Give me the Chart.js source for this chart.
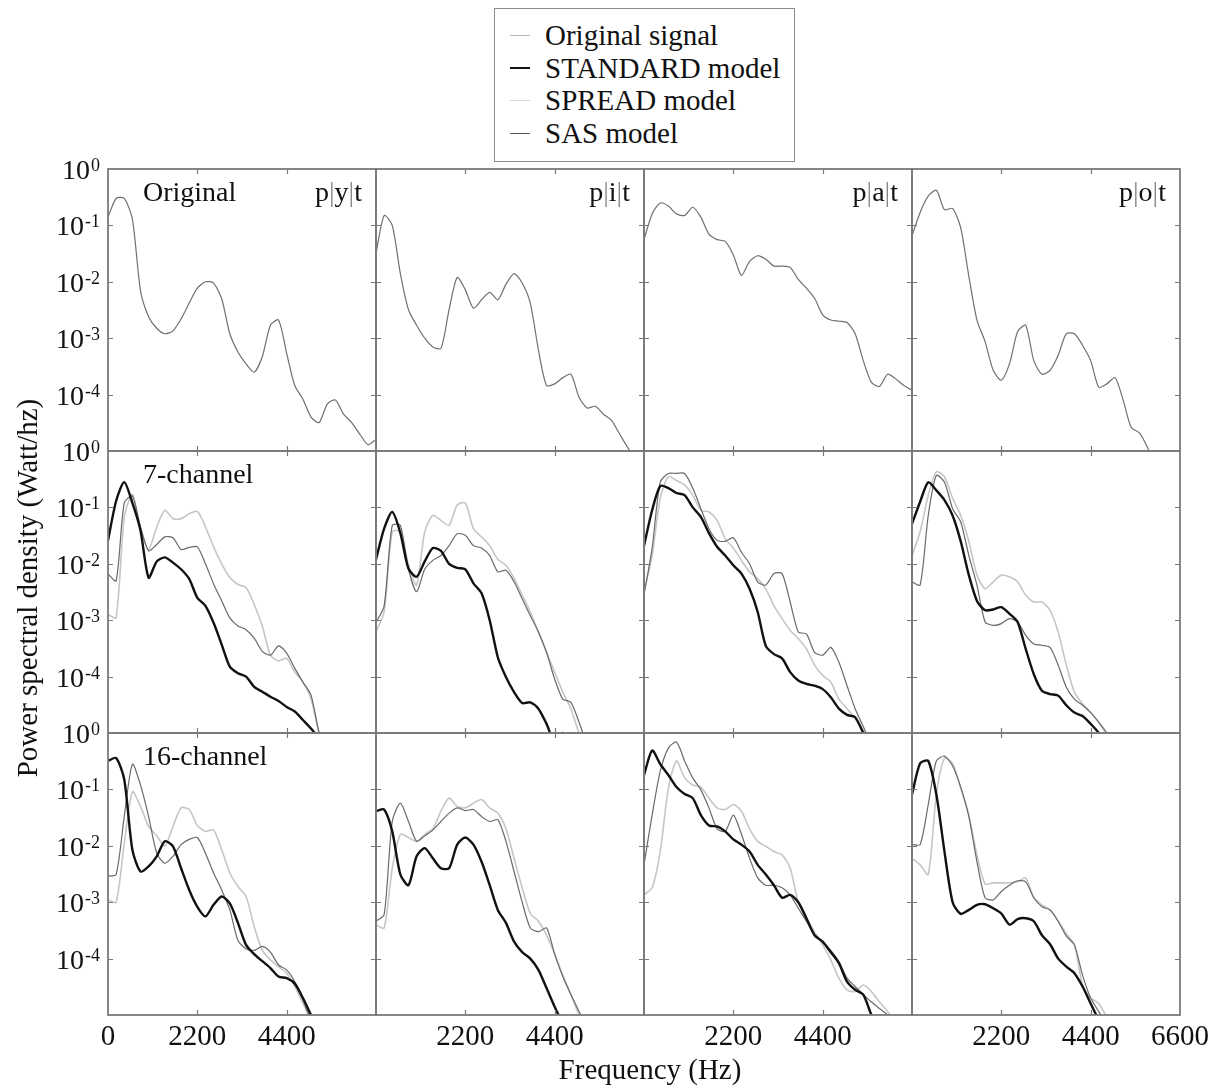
<!DOCTYPE html>
<html lang="en">
<head>
<meta charset="utf-8">
<title>Power spectral density</title>
<script src="https://cdn.jsdelivr.net/npm/chart.js@4.4.1/dist/chart.umd.min.js"></script>
<style>
  html, body { margin: 0; padding: 0; background: #fff; }
  #page { position: relative; width: 1217px; height: 1089px; overflow: hidden;
          font-family: 'Liberation Serif', 'Times New Roman', serif; color: #111; }
  #psd { position: absolute; left: 0; top: 0; }
  .legend { position: absolute; left: 494px; top: 8px; width: 301px; height: 154px; box-sizing: border-box;
            border: 1px solid #8c8c8c; padding: 10px 0 0 15px; background: #fff; }
  .legend div { display: flex; align-items: center; height: 32.7px; line-height: 32.7px; font-size: 29px; white-space: nowrap; }
  .legend .mark { display: inline-block; width: 20px; margin-right: 15px; }
  .m-orig { border-top: 1.5px solid #b4b4b4; }
  .m-std { border-top: 2.5px solid #111; }
  .m-spread { border-top: 1.5px solid #d6d6d6; }
  .m-sas { border-top: 1.5px solid #555; }
  .xtitle { position: absolute; left: 450px; width: 400px; top: 1053px; text-align: center; font-size: 29px; line-height: 32px; }
  .ytitle { position: absolute; left: -223px; top: 572px; width: 500px; height: 32px; line-height: 32px;
            text-align: center; font-size: 29px; transform: rotate(-90deg); }
</style>
</head>
<body>
<div id="page">
  <canvas id="psd" width="1217" height="1089"></canvas>
  <div class="legend">
    <div><span class="mark m-orig"></span>Original signal</div>
    <div><span class="mark m-std"></span>STANDARD model</div>
    <div><span class="mark m-spread"></span>SPREAD model</div>
    <div><span class="mark m-sas"></span>SAS model</div>
  </div>
  <div class="ytitle">Power spectral density (Watt/hz)</div>
  <div class="xtitle">Frequency (Hz)</div>
</div>
<script>
// frequency grid (Hz), shared by every curve
const freqs = [0, 200, 400, 600, 800, 1000, 1200, 1400, 1600, 1800, 2000, 2200, 2400, 2600, 2800, 3000,
  3200, 3400, 3600, 3800, 4000, 4200, 4400, 4600, 4800, 5000, 5200, 5400, 5600, 5800, 6000, 6200, 6400, 6600];

const words = ['p|y|t', 'p|i|t', 'p|a|t', 'p|o|t'];
const rowNames = ['Original', '7-channel', '16-channel'];
const decades = [1, 1e-1, 1e-2, 1e-3, 1e-4];
const freqTicks = [2200, 4400];

// row 1: original signal
const origPyt = [1.4e-1, 3e-1, 3e-1, 1.3e-1, 7e-3, 2.4e-3, 1.5e-3, 1.2e-3, 1.35e-3, 2.2e-3, 4.2e-3, 7.7e-3, 1e-2, 9.5e-3, 5e-3, 1.2e-3, 5.7e-4,
  3.5e-4, 2.5e-4, 4.7e-4, 1.7e-3, 2.1e-3, 5.4e-4, 1.45e-4, 8.3e-5, 4e-5, 3.2e-5, 6.8e-5, 8e-5, 4.5e-5, 3.2e-5, 2e-5, 1.3e-5, 1.6e-5];
const origPit = [3.2e-2, 1.5e-1, 1e-1, 1.4e-2, 3.2e-3, 1.7e-3, 1e-3, 7e-4, 6.6e-4, 3.2e-3, 1.2e-2, 7.2e-3, 3.4e-3, 4.8e-3, 6.5e-3, 4.8e-3, 9e-3,
  1.4e-2, 9.5e-3, 4.2e-3, 6.2e-4, 1.45e-4, 1.55e-4, 2e-4, 2.3e-4, 9e-5, 5.8e-5, 6.2e-5, 4.5e-5, 3.5e-5, 2e-5, 1.15e-5, 7e-6];
const origPat = [5.6e-2, 1.6e-1, 2.5e-1, 2.2e-1, 1.6e-1, 1.5e-1, 2.1e-1, 1.4e-1, 7e-2, 5.6e-2, 5.2e-2, 3e-2, 1.3e-2, 2.3e-2, 2.9e-2, 2.5e-2, 1.9e-2,
  1.9e-2, 1.8e-2, 1.1e-2, 7.7e-3, 5.1e-3, 2.6e-3, 2.1e-3, 2e-3, 1.9e-3, 1.2e-3, 4e-4, 1.65e-4, 1.4e-4, 2.3e-4, 1.9e-4, 1.45e-4, 1.2e-4];
const origPot = [6.5e-2, 1.7e-1, 3.3e-1, 4.2e-1, 1.9e-1, 2e-1, 9e-2, 1.25e-2, 2.1e-3, 8.7e-4, 2.7e-4, 1.8e-4, 3.5e-4, 1.3e-3, 1.7e-3, 4e-4, 2.3e-4,
  2.7e-4, 5e-4, 1.2e-3, 1.2e-3, 7.5e-4, 4e-4, 1.35e-4, 1.55e-4, 2e-4, 8e-5, 2.6e-5, 2.1e-5, 1.15e-5, 5e-6];

// row 2: 7-channel
const std7Pyt = [2.6e-2, 1.3e-1, 2.8e-1, 1.2e-1, 3.9e-2, 5.7e-3, 1.1e-2, 1.3e-2, 1.05e-2, 8e-3, 5.4e-3, 2.5e-3, 1.8e-3, 9e-4, 3.7e-4, 1.5e-4,
  1.15e-4, 1e-4, 6.6e-5, 5.4e-5, 4.4e-5, 3.7e-5, 2.9e-5, 2.4e-5, 1.7e-5, 1.2e-5, 8e-6];
const sas7Pyt = [6.6e-3, 5e-3, 1.2e-1, 1.6e-1, 4.5e-2, 1.7e-2, 2.2e-2, 3e-2, 2.9e-2, 1.8e-2, 1.95e-2, 2e-2, 1e-2, 4.4e-3, 2.2e-3, 1.1e-3,
  7.9e-4, 6.8e-4, 4.8e-4, 2.8e-4, 2.4e-4, 3.5e-4, 2.6e-4, 1.4e-4, 8e-5, 4.7e-5, 1e-5, 4e-6];
const spread7Pyt = [1.26e-3, 1.1e-3, 6.7e-2, 1.7e-1, 4.2e-2, 1.8e-2, 4.5e-2, 8.9e-2, 6.3e-2, 6.3e-2, 7.7e-2, 8.5e-2, 4.5e-2, 2e-2, 1e-2, 5.7e-3,
  4.3e-3, 3.8e-3, 1.9e-3, 7.9e-4, 2.4e-4, 1.9e-4, 2.1e-4, 1.2e-4, 8e-5, 4e-5, 1e-5, 4e-6];
const std7Pit = [1.2e-2, 4.2e-2, 8.3e-2, 3.5e-2, 8.2e-3, 5.9e-3, 1.1e-2, 1.9e-2, 1.7e-2, 1e-2, 8.5e-3, 8e-3, 4.5e-3, 3e-3, 1e-3, 2.2e-4,
  9.8e-5, 5.3e-5, 3.4e-5, 3.5e-5, 2.7e-5, 1.45e-5, 7e-6, 1e-5, 4e-6];
const sas7Pit = [9e-4, 1.8e-3, 4.8e-2, 4.8e-2, 8e-3, 3.2e-3, 8e-3, 1.15e-2, 1.4e-2, 2.1e-2, 3.4e-2, 3.2e-2, 2.1e-2, 1.9e-2, 1.4e-2, 7.2e-3,
  7.7e-3, 4.8e-3, 2.4e-3, 1.2e-3, 6.2e-4, 2.7e-4, 9e-5, 4e-5, 3.5e-5, 1.55e-5, 6e-6];
const spread7Pit = [6.2e-4, 1.4e-3, 3.7e-2, 3.7e-2, 9.4e-3, 4.2e-3, 3.7e-2, 7.2e-2, 5.9e-2, 4.8e-2, 1.1e-1, 1.2e-1, 4.2e-2, 3e-2, 2.1e-2, 1.2e-2,
  9.4e-3, 5.5e-3, 2.8e-3, 1.4e-3, 6.2e-4, 2.7e-4, 1.2e-4, 5.3e-5, 2.7e-5, 1e-5, 5e-6];
const std7Pat = [2.1e-2, 8.9e-2, 2.4e-1, 2.2e-1, 1.8e-1, 1.65e-1, 1e-1, 6.8e-2, 3.5e-2, 2e-2, 1.4e-2, 9.4e-3, 6.7e-3, 3.6e-3, 1.4e-3, 3.5e-4,
  2.5e-4, 2.1e-4, 1.2e-4, 8.5e-5, 7.4e-5, 6.9e-5, 6e-5, 4.3e-5, 2.7e-5, 2.1e-5, 1.9e-5, 1e-5, 5e-6];
const sas7Pat = [2.8e-3, 1.9e-2, 2.8e-1, 4e-1, 4e-1, 4e-1, 2.2e-1, 9.5e-2, 4.2e-2, 2.6e-2, 2.5e-2, 2.9e-2, 1.6e-2, 1e-2, 4.8e-3, 4.2e-3,
  6.7e-3, 6.7e-3, 2.1e-3, 6.2e-4, 5.7e-4, 2.7e-4, 2.4e-4, 3.3e-4, 1.8e-4, 6.9e-5, 2.7e-5, 1.3e-5, 6e-6];
const spread7Pat = [3.2e-3, 1.4e-2, 1.45e-1, 3.5e-1, 3e-1, 2.5e-1, 1.65e-1, 8.9e-2, 8.3e-2, 5.9e-2, 2.8e-2, 1.9e-2, 1.15e-2, 7.2e-3, 5.5e-3, 3.6e-3,
  1.8e-3, 1.07e-3, 6.6e-4, 4.7e-4, 3.1e-4, 1.6e-4, 1.05e-4, 8e-5, 4e-5, 2.7e-5, 1.8e-5, 1.1e-5, 5e-6];
const std7Pot = [5.1e-2, 1.26e-1, 2.8e-1, 2e-1, 1.35e-1, 7.2e-2, 2.5e-2, 6.3e-3, 2.2e-3, 1.5e-3, 1.55e-3, 1.7e-3, 1.3e-3, 9.3e-4, 3.1e-4, 1.1e-4,
  5.6e-5, 4.9e-5, 4.6e-5, 3.1e-5, 2.3e-5, 2e-5, 1.45e-5, 1e-5, 5e-6];
const sas7Pot = [4.8e-3, 4.2e-3, 7.2e-2, 3.7e-1, 2.8e-1, 9.5e-2, 5.5e-2, 1.4e-2, 4.2e-3, 9.3e-4, 8.1e-4, 8.7e-4, 1.07e-3, 9.3e-4, 5.4e-4, 3.8e-4,
  3.6e-4, 3.3e-4, 1.6e-4, 6.5e-5, 4e-5, 3.1e-5, 2.3e-5, 1.55e-5, 1e-5, 5e-6];
const spread7Pot = [1.4e-2, 3.7e-2, 1.65e-1, 4.3e-1, 3.5e-1, 1.45e-1, 7.2e-2, 2.5e-2, 6.3e-3, 3.6e-3, 4.8e-3, 6.3e-3, 5.9e-3, 4.8e-3, 2.8e-3, 2.1e-3,
  2.1e-3, 1.5e-3, 6.2e-4, 1.6e-4, 5.3e-5, 3.3e-5, 2.3e-5, 1.55e-5, 9e-6, 5e-6];

// row 3: 16-channel
const std16Pyt = [3.2e-1, 3.6e-1, 1.5e-1, 8.5e-3, 3.5e-3, 4.3e-3, 6.5e-3, 1.2e-2, 9.8e-3, 4e-3, 1.65e-3, 8.3e-4, 5.6e-4, 9e-4, 1.26e-3, 9.5e-4,
  4.3e-4, 1.75e-4, 1.2e-4, 9e-5, 6.8e-5, 4.8e-5, 4.5e-5, 3.6e-5, 2e-5, 1e-5, 5e-6];
const sas16Pyt = [2.9e-3, 3.1e-3, 3.3e-2, 2.8e-1, 1.2e-1, 3.3e-2, 7.4e-3, 4.9e-3, 6.5e-3, 1.05e-2, 1.3e-2, 1.4e-2, 7.4e-3, 3.3e-3, 1.65e-3, 7.3e-4,
  2.1e-4, 1.5e-4, 1.4e-4, 1.65e-4, 1.3e-4, 7.7e-5, 6.3e-5, 3.9e-5, 1.85e-5, 8e-6];
const spread16Pyt = [1.1e-3, 1e-3, 1.1e-2, 9.1e-2, 5e-2, 2.2e-2, 1.5e-2, 9.8e-3, 2.2e-2, 4.7e-2, 4.4e-2, 2.3e-2, 1.8e-2, 1.9e-2, 8.5e-3, 3.3e-3,
  1.9e-3, 1.26e-3, 3.7e-4, 1.4e-4, 9.5e-5, 7.2e-5, 5.5e-5, 3.2e-5, 1.6e-5, 8e-6];
const std16Pit = [4.1e-2, 4.4e-2, 1.8e-2, 3.1e-3, 2e-3, 6.5e-3, 9.1e-3, 6e-3, 4e-3, 4e-3, 1.05e-2, 1.4e-2, 1.05e-2, 5.2e-3, 2e-3, 7.3e-4,
  4.3e-4, 2e-4, 1.3e-4, 1e-4, 6.3e-5, 3e-5, 1.4e-5, 7e-6];
const sas16Pit = [4.6e-4, 6e-4, 2.7e-2, 5.7e-2, 2.7e-2, 1.2e-2, 1.5e-2, 1.9e-2, 2.7e-2, 3.8e-2, 4.7e-2, 4.2e-2, 4.4e-2, 3.3e-2, 2.7e-2, 2.9e-2,
  1.2e-2, 3.5e-3, 1e-3, 3.5e-4, 3e-4, 3.5e-4, 1.2e-4, 4.8e-5, 2.3e-5, 1.15e-5, 6e-6];
const spread16Pit = [4e-4, 3.5e-4, 4e-3, 1.6e-2, 1.4e-2, 1.2e-2, 1.6e-2, 2e-2, 4.1e-2, 7e-2, 5e-2, 4.7e-2, 5.7e-2, 6.6e-2, 4.7e-2, 3.8e-2,
  2e-2, 6e-3, 1.8e-3, 6.3e-4, 4.6e-4, 2.6e-4, 1.2e-4, 5.1e-5, 2.3e-5, 1e-5, 5e-6];
const std16Pat = [1.8e-1, 4.9e-1, 2.8e-1, 1.8e-1, 1.1e-1, 8.3e-2, 7e-2, 3.5e-2, 2.3e-2, 2.2e-2, 1.8e-2, 1.3e-2, 1.05e-2, 7.9e-3, 4.6e-3, 3.1e-3,
  2e-3, 1.2e-3, 1.35e-3, 1e-3, 5.2e-4, 2.6e-4, 2e-4, 1.3e-4, 8.3e-5, 3.9e-5, 2.8e-5, 2.3e-5, 1e-5, 5e-6];
const sas16Pat = [4.6e-3, 3.5e-2, 2.1e-1, 5.4e-1, 6.9e-1, 3.2e-1, 1.6e-1, 9.8e-2, 4.7e-2, 2e-2, 1.8e-2, 3.5e-2, 1.6e-2, 6e-3, 2.7e-3, 2e-3,
  2e-3, 1.8e-3, 1.35e-3, 7.8e-4, 4.6e-4, 2.6e-4, 2e-4, 1.4e-4, 8.9e-5, 4.5e-5, 3.2e-5, 2.3e-5, 1.7e-5, 1.3e-5, 1e-5, 6e-6];
const spread16Pat = [1.35e-3, 1.8e-3, 7.9e-3, 1.05e-1, 3.2e-1, 1.6e-1, 1.2e-1, 1.1e-1, 7e-2, 4.7e-2, 4.4e-2, 5.4e-2, 4.1e-2, 2e-2, 1.2e-2, 9.8e-3,
  7.9e-3, 6.9e-3, 4e-3, 1e-3, 5.2e-4, 3e-4, 1.75e-4, 9.5e-5, 4.5e-5, 2.8e-5, 2.6e-5, 3.4e-5, 2.6e-5, 1.7e-5, 1.15e-5, 6e-6];
const std16Pot = [8.1e-2, 2.9e-1, 3.2e-1, 8.1e-2, 7.9e-3, 1e-3, 6.2e-4, 7.3e-4, 9e-4, 9.2e-4, 7.8e-4, 6.3e-4, 4e-4, 5e-4, 5.2e-4, 4.6e-4,
  2.6e-4, 1.8e-4, 1e-4, 7.2e-5, 5.5e-5, 3.2e-5, 1.6e-5, 8e-6];
const sas16Pot = [1.05e-2, 1.05e-2, 5.4e-2, 3.2e-1, 3.9e-1, 2.6e-1, 1.1e-1, 3.3e-2, 5.2e-3, 1.2e-3, 1.1e-3, 1.55e-3, 2e-3, 2.4e-3, 2.3e-3, 1.2e-3,
  8.3e-4, 7.3e-4, 4.6e-4, 2.5e-4, 1.75e-4, 5.1e-5, 2e-5, 1.15e-5, 7e-6];
const spread16Pot = [6e-3, 4.6e-3, 3.1e-3, 8.1e-2, 3.6e-1, 2.9e-1, 1.05e-1, 3.5e-2, 6.9e-3, 2.1e-3, 2.2e-3, 2.2e-3, 2.2e-3, 2.3e-3, 2.7e-3, 1.2e-3,
  9e-4, 7.3e-4, 4.6e-4, 2.8e-4, 1.75e-4, 3.4e-5, 2e-5, 1.6e-5, 9e-6];

const original = [origPyt, origPit, origPat, origPot];
const standard = [[std7Pyt, std7Pit, std7Pat, std7Pot], [std16Pyt, std16Pit, std16Pat, std16Pot]];
const sas = [[sas7Pyt, sas7Pit, sas7Pat, sas7Pot], [sas16Pyt, sas16Pit, sas16Pat, sas16Pot]];
const spread = [[spread7Pyt, spread7Pit, spread7Pat, spread7Pot], [spread16Pyt, spread16Pit, spread16Pat, spread16Pot]];

const FONT = "'Liberation Serif', 'Times New Roman', serif";
const FRAME = '#7a7a7a';
const INK = '#111111';

const looks = {
  original: { borderColor: '#707070', borderWidth: 1.2, order: 0 },
  standard: { borderColor: '#111111', borderWidth: 2.4, order: 0 },
  sas: { borderColor: '#6a6a6a', borderWidth: 1.2, order: 1 },
  spread: { borderColor: '#c6c6c6', borderWidth: 1.6, order: 2 },
};

function series(label, vals, col, row) {
  return {
    label,
    data: vals.map((v, i) => ({ x: freqs[i], y: v })),
    xAxisID: 'x' + col,
    yAxisID: 'y' + row,
    pointRadius: 0,
    tension: 0.25,
    fill: false,
    ...looks[label],
  };
}

const datasets = [];
for (let c = 0; c < 4; c++) {
  datasets.push(series('original', original[c], c, 0));
  for (let r = 0; r < 2; r++) {
    datasets.push(series('standard', standard[r][c], c, r + 1));
    datasets.push(series('sas', sas[r][c], c, r + 1));
    datasets.push(series('spread', spread[r][c], c, r + 1));
  }
}

// stacked y axes are laid out bottom-up, so the top row (y0) is declared last
const scales = {};
for (let c = 0; c < 4; c++) {
  scales['x' + c] = { type: 'linear', position: 'bottom', stack: 'cols', min: 0, max: 6600, display: false };
}
for (let r = 2; r >= 0; r--) {
  scales['y' + r] = { type: 'logarithmic', position: 'left', stack: 'rows', min: 1e-5, max: 1, display: false };
}

// "p|y|t" with the bars in grey, right-aligned at x
function drawWord(ctx, word, x, y) {
  const parts = word.split('');
  let cx = x - ctx.measureText(word).width;
  ctx.textAlign = 'left';
  parts.forEach((ch) => {
    ctx.fillStyle = ch === '|' ? '#8a8a8a' : INK;
    ctx.fillText(ch, cx, y);
    cx += ctx.measureText(ch).width;
  });
}

// clip each curve to its own panel, then draw frames, ticks and labels
const panels = {
  id: 'panels',
  beforeDatasetDraw(chart, args) {
    const { xScale, yScale } = args.meta;
    const ctx = chart.ctx;
    ctx.save();
    ctx.beginPath();
    ctx.rect(xScale.left, yScale.top, xScale.right - xScale.left, yScale.bottom - yScale.top);
    ctx.clip();
  },
  afterDatasetDraw(chart) {
    chart.ctx.restore();
  },
  afterDatasetsDraw(chart) {
    const ctx = chart.ctx;
    ctx.save();
    ctx.strokeStyle = FRAME;
    for (let r = 0; r < 3; r++) {
      const ys = chart.scales['y' + r];
      for (let c = 0; c < 4; c++) {
        const xs = chart.scales['x' + c];
        ctx.lineWidth = 1.2;
        ctx.beginPath();
        freqTicks.forEach((f) => {
          const px = Math.round(xs.getPixelForValue(f)) + 0.5;
          ctx.moveTo(px, ys.top); ctx.lineTo(px, ys.top + 5);
          ctx.moveTo(px, ys.bottom); ctx.lineTo(px, ys.bottom - 5);
        });
        decades.slice(1).forEach((d) => {
          const py = Math.round(ys.getPixelForValue(d)) + 0.5;
          ctx.moveTo(xs.left, py); ctx.lineTo(xs.left + 5, py);
          ctx.moveTo(xs.right, py); ctx.lineTo(xs.right - 5, py);
        });
        ctx.stroke();
        ctx.lineWidth = 1.8;
        ctx.strokeRect(xs.left, ys.top, xs.right - xs.left, ys.bottom - ys.top);
      }
    }
    ctx.restore();

    ctx.save();
    ctx.fillStyle = INK;
    ctx.textBaseline = 'alphabetic';
    // y tick labels 10^n
    for (let r = 0; r < 3; r++) {
      const ys = chart.scales['y' + r];
      decades.forEach((d, k) => {
        const py = ys.getPixelForValue(d);
        const exp = k === 0 ? '0' : '-' + k;
        ctx.textAlign = 'right';
        ctx.font = '18px ' + FONT;
        const w = ctx.measureText(exp).width;
        ctx.fillText(exp, 100, py + 2);
        ctx.font = '28px ' + FONT;
        ctx.fillText('10', 100 - w - 1, py + 10);
      });
      // row name
      const x0 = chart.scales.x0;
      ctx.textAlign = 'left';
      ctx.font = '28px ' + FONT;
      ctx.fillText(rowNames[r], x0.left + 35, ys.top + 32);
    }
    // word labels in the top row
    const y0 = chart.scales.y0;
    ctx.font = '28px ' + FONT;
    for (let c = 0; c < 4; c++) {
      const xs = chart.scales['x' + c];
      drawWord(ctx, words[c], xs.right - 14, y0.top + 32);
    }
    // x tick labels under the bottom row
    const yb = chart.scales.y2;
    ctx.fillStyle = INK;
    ctx.textAlign = 'center';
    ctx.font = '29px ' + FONT;
    for (let c = 0; c < 4; c++) {
      const xs = chart.scales['x' + c];
      const labels = freqTicks.slice();
      if (c === 0) labels.unshift(0);
      if (c === 3) labels.push(6600);
      labels.forEach((f) => ctx.fillText(String(f), xs.getPixelForValue(f), yb.bottom + 30));
    }
    ctx.restore();
  },
};

new Chart(document.getElementById('psd'), {
  type: 'line',
  data: { datasets },
  options: {
    responsive: false,
    animation: false,
    layout: { padding: { left: 108, top: 169, right: 37, bottom: 74 } },
    scales,
    plugins: {
      legend: { display: false },
      tooltip: { enabled: false },
    },
  },
  plugins: [panels],
});
</script>
</body>
</html>
